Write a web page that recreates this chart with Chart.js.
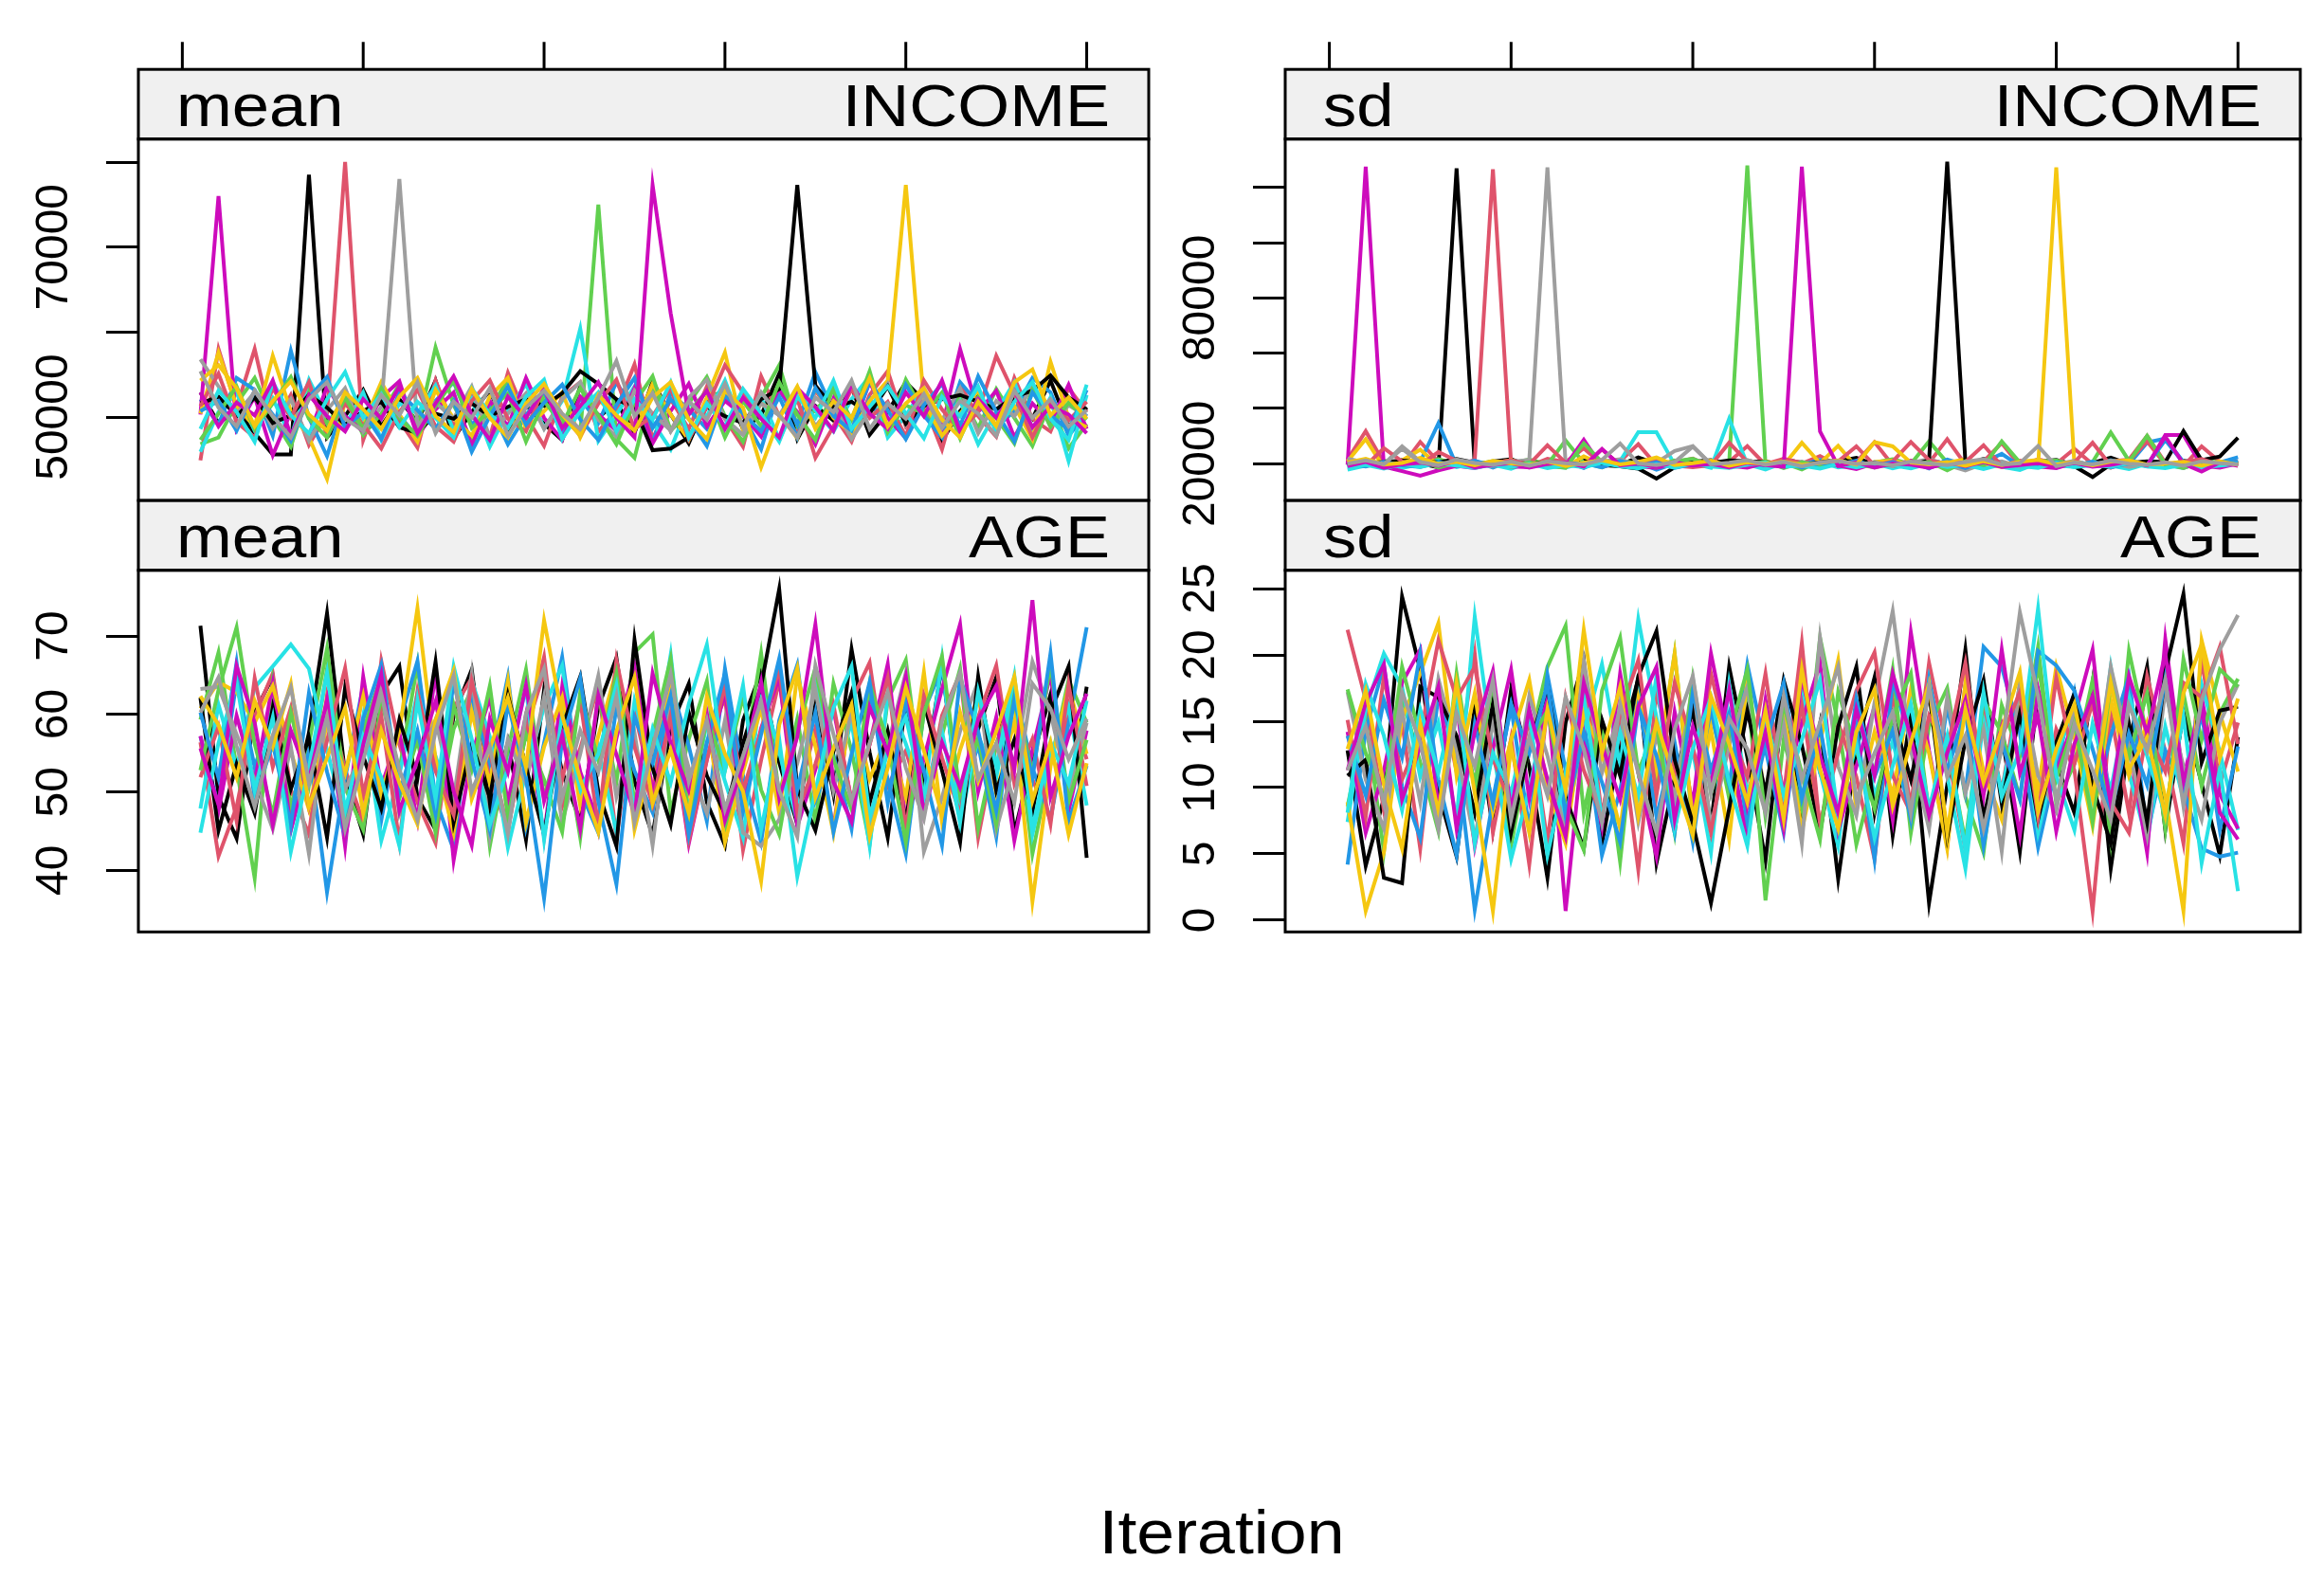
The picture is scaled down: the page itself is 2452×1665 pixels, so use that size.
<!DOCTYPE html>
<html>
<head>
<meta charset="utf-8">
<script src="https://cdn.jsdelivr.net/npm/chart.js@4.4.1/dist/chart.umd.min.js"></script>
<style>
  html, body { margin: 0; padding: 0; background: #fff; }
  body { width: 2452px; height: 1665px; position: relative; overflow: hidden; font-family: "Liberation Sans", Arial, sans-serif; }
  .panel { position: absolute; }
  #xlab { position: absolute; left: 889px; width: 800px; top: 1585px; text-align: center;
          font-size: 64px; line-height: 64px; transform: scaleX(1.12); color: #000; }
</style>
</head>
<body>
<div id="xlab">Iteration</div>
<script>
// ---- data (16 chains x 50 iterations) ----
const iterations = [1,2,3,4,5,6,7,8,9,10,11,12,13,14,15,16,17,18,19,20,21,22,23,24,25,
  26,27,28,29,30,31,32,33,34,35,36,37,38,39,40,41,42,43,44,45,46,47,48,49,50];
const palette = ['#000000','#DF536B','#61D04F','#2297E6','#28E2E5','#CD0BBC','#F5C710','#9E9E9E'];
const topTickIterations = [0,10,20,30,40,50];

const incomeMeanTicks = [50000,60000,70000,80000];
const incomeMeanTickLabels = ['50000','','70000',''];
const incomeSdTicks = [20000,40000,60000,80000,100000,120000];
const incomeSdTickLabels = ['20000','','','80000','',''];
const ageMeanTicks = [40,50,60,70];
const ageMeanTickLabels = ['40','50','60','70'];
const ageSdTicks = [0,5,10,15,20,25];
const ageSdTickLabels = ['0','5','10','15','20','25'];

const incomeMean = [
  [52900,49300,50800,48100,45600,45600,78500,47600,50100,53200, 48900,52100,49400,54300,47500,50600,53100,48200,51400,49200,
   47300,53600,49900,51800,48100,54200,50300,46900,51700,53400, 48600,50200,55100,47400,51300,49600,53500,47900,50600,54100,
   51900,47200,50700,52900,48400,52300,49800,54300,48900,51100],
  [44900,58000,51100,58000,48800,52600,46700,50400,80000,47300, 53200,49600,46400,54300,48900,52400,47600,55200,50100,46600,
   52400,54100,48300,50800,56200,47400,52100,48600,53600,49800, 46500,54800,50100,48200,53100,50300,47100,52600,55400,48900,
   51600,46200,53800,50100,47700,54600,49800,48300,53400,50600],
  [46800,47600,51600,54600,49900,46500,53100,49200,52200,47900, 50400,53800,48600,58200,51400,47300,50900,54400,48900,52600,
   49800,48100,75000,47400,45200,53400,48400,51600,54700,50100, 47100,52300,56100,48900,50800,53100,47600,52100,48500,54400,
   50600,47900,52600,48700,53300,49900,46600,51800,46300,49200],
  [52100,49100,54600,53200,47800,57800,49900,45400,52300,48600, 53600,50200,47600,51900,54100,49100,51300,46800,50200,53100,
   47900,52200,49300,54100,50600,47100,52800,50900,48600,52300, 50100,46200,53300,49100,55300,50700,47900,52100,48300,53800,
   50200,47600,54100,51600,48800,50700,54600,52900,47800,50400],
  [45900,50600,52800,48400,52200,47600,54400,50100,48900,52900, 47300,51600,50400,53700,48400,52100,46500,50700,53900,48700,
   51900,60400,47200,50300,53600,49400,46200,51600,50100,54300, 48800,52300,47400,53100,50800,48300,52100,54800,47600,50200,
   53400,49300,51900,46800,50600,54100,48600,52300,44800,52600],
  [50300,76000,48600,52400,45500,50600,47800,53600,50100,48300, 52300,54200,47700,50900,52900,46600,51900,48900,54600,49900,
   47300,52400,50300,48400,53400,46900,50700,53900,48900,51900, 50200,47700,53100,50600,46800,52200,48400,54100,49900,47500,
   52400,48700,58000,50600,53100,47600,51600,49300,53800,48600],
  [50400,57600,51300,48900,57200,50700,47600,42700,51900,49200, 54100,50300,47100,53200,49800,47800,52400,54600,48600,50700,
   52900,47600,52100,49900,48800,53900,50300,47300,52300,57600, 48400,51600,50400,47500,53400,49900,48100,51900,54300,77300,
   51800,47800,50400,53100,48900,51300,47400,56500,49900,48800],
  [56800,53600,50400,52900,48700,52100,47200,50800,53400,48300, 51200,78000,48900,51700,49800,53600,47600,50400,52800,48600,
   52100,54100,49700,47700,53100,50400,48400,52300,54400,49800, 47900,51600,50200,53500,48900,51500,47400,50700,53900,49100,
   51900,49600,53400,48100,51900,50100,53600,48800,51400,50100],
  [51600,52400,50100,52300,49300,50200,52600,51100,49100,50700, 51800,48800,48100,50400,49800,51600,50100,51200,52100,51300,
   52800,55400,53900,52100,51100,46100,46300,47600,51200,50100, 49300,52100,53300,77300,53700,51100,51800,50400,53600,49200,
   51300,52100,52600,51800,50900,52400,53100,54900,52300,50900],
  [51300,55100,49400,47600,53400,49900,54100,47800,51600,49100, 46300,50600,53200,48900,47100,51900,54300,49800,48300,53600,
   50300,47800,51600,54400,48600,50100,53400,47400,51200,56100, 52900,50100,47300,52200,45200,48900,53300,49900,51800,47700,
   54300,50900,48400,50600,57200,52700,47600,51900,49600,51800],
  [47300,50400,53600,48600,51600,54700,49800,47600,52300,48600, 53400,49900,47800,51300,54300,48700,50800,52800,47100,51900,
   49100,53400,50200,46800,51700,54800,48400,50500,53100,47600, 51900,48900,54100,50300,47300,53600,49700,55400,48200,51400,
   50400,52900,47500,52300,49900,46900,53200,48900,51700,49700],
  [50700,51900,48400,53100,50300,47200,52300,54700,48800,50600, 47400,52900,50800,48600,51900,45900,50100,53600,49100,51700,
   53800,49700,47300,51400,54600,48700,52100,49800,46600,52700, 50400,48300,52400,47600,53400,50100,48400,54200,50800,47400,
   51400,53900,48900,54800,50600,47100,52900,50200,48500,53200],
  [48600,53100,50600,47100,54100,50200,48100,52100,55300,49900, 52700,48800,51800,49900,47600,53400,50300,48700,52400,54400,
   47400,50700,52900,48300,52100,49700,54100,47600,51600,48900, 53300,50400,47100,52400,49900,54300,48600,51200,53600,50400,
   47500,52400,50100,53600,48200,51800,54100,49800,47300,53800],
  [52900,48900,51700,50200,54300,47800,52600,50100,48300,52100, 49800,53600,48100,51600,54800,50300,47300,52400,49900,53300,
   48700,51300,54100,49900,47600,77300,62200,50300,53100,48600, 52300,49800,47600,53400,51200,48400,53900,50400,48600,52900,
   50100,54300,48200,52100,49900,53100,48800,51300,50300,48100],
  [54300,56100,53400,48900,51900,54200,50300,48400,52900,50900, 48600,52400,54600,50100,48200,53300,49900,47600,51600,53900,
   50300,47800,52600,50200,48400,52300,54100,49700,47400,53100, 51100,44100,49800,53600,48600,51900,49900,54600,48900,51600,
   53400,49700,47600,51800,48900,54100,55600,50200,52300,49800],
  [55400,51100,48900,53100,50100,47600,52100,54100,49800,48400, 52600,50200,54100,48100,51800,49900,53400,47800,51100,53100,
   50400,48600,52300,56600,50100,52800,48300,51900,49700,53900, 48800,52900,50200,47600,52300,50600,54300,48600,51600,49800,
   52700,48700,51900,50400,47800,53100,49900,52100,48900,50800]
];

const incomeSd = [
  [19800,20600,19200,21400,20100,18700,126900,19500,20800,21600, 19300,20200,18900,21100,20500,19600,22300,20000,19100,20700,
   21300,19800,20400,18800,21700,20300,19400,20900,22100,19700, 20600,18500,21200,20000,19300,21800,20500,19000,20700,21400,
   19600,20300,22200,19900,20800,19200,21000,20400,19500,20900],
  [21500,31800,20300,19200,27900,20700,19600,21300,126500,20200, 19100,21800,20600,25600,19800,20900,27100,19400,20500,21900,
   18900,20700,26400,19600,21200,20100,22800,19300,20600,27800, 19500,21100,20300,28900,19700,20800,27500,19200,21600,20000,
   25400,19800,20900,21500,30100,20400,19100,26300,20700,19900],
  [20300,19100,21000,20500,18900,21700,19800,20600,19400,20100, 21500,19700,28400,20300,18700,21200,20000,19500,20900,21800,
   19300,20600,127900,19800,20200,17900,21100,20700,19200,20500, 21600,19900,28100,20400,18600,21300,20100,19600,20800,21200,
   19400,20600,31300,21100,19800,20300,18800,21000,20500,19700],
  [18800,20400,19600,21200,20700,34600,19300,20900,18600,21100, 20200,19500,20800,18400,21300,19900,20500,17800,20100,19300,
   21000,19400,20700,18900,20300,19700,21400,20000,18700,20600, 19200,20800,18300,21500,19600,20400,23600,19100,20700,18500,
   20900,19400,21300,19800,27700,29100,20600,19200,20500,22400],
  [17900,19300,20600,18400,19900,21100,18800,20300,19600,18200, 20700,19100,18600,20400,19400,20900,31400,31400,19700,20200,
   18500,36300,19800,17900,20400,19000,20600,18700,19500,20100, 18300,19900,20700,18600,19200,20500,18900,17700,20300,19400,
   18800,20600,19300,18100,20000,19600,18400,20800,19100,20200],
  [19600,127500,18900,17300,15700,17600,19200,18400,20100,19000, 18700,20500,19300,28700,18900,20400,19100,18500,20000,19400,
   20900,19200,18600,20300,19800,18900,20600,19300,18100,20200, 19500,21000,18700,19900,20500,18800,19600,20700,19000,18400,
   20300,19700,18600,20800,19100,30400,30400,19300,18600,20100],
  [20900,28900,18600,21200,25100,19400,20600,18900,20200,21300, 19500,20300,18800,22700,19700,20700,18500,19800,21000,19300,
   20100,18700,19900,20900,19400,27600,20200,26500,18900,20600, 21100,19600,19100,20400,21600,19800,18800,20500,19200,127200,
   19700,20300,18600,21000,19400,18900,20700,19100,20500,19500],
  [21800,20500,19800,26300,20900,19600,21200,20200,19000,20700, 21400,127200,20100,19400,20800,21600,19200,20400,24600,26400,
   19900,20600,21300,19500,20200,20800,18700,21000,19300,20500, 19100,20300,21700,19600,17600,20100,20900,18900,20400,19700,
   21100,19300,20600,18800,19900,20500,18400,21200,19600,20300],
  [19400,20300,20600,21100,20800,20500,21700,20400,20100,20700, 19900,20600,20300,19800,19500,19100,18200,14600,18700,19800,
   20300,21200,20900,20600,20100,19700,20500,21100,20800,20200, 19400,19200,21300,129300,20700,20400,19600,19900,20500,20300,
   19100,15200,19800,20300,20900,20600,31800,21300,22600,29400],
  [20600,19300,25600,20800,19500,24300,21000,19700,20300,21200, 19800,26700,20400,19100,25200,19600,20100,21400,19300,18700,
   19500,27600,20700,19900,21800,20300,18600,20900,26300,19400, 20800,27900,21300,19700,20600,26700,19200,21100,20100,19800,
   20500,27600,19300,20900,28100,19700,20600,21700,19500,20900],
  [19200,20800,19500,20100,21400,18600,20300,19700,20900,18800, 20500,19300,18500,27400,20600,19100,20000,18800,21200,19600,
   20300,18900,19700,20800,18400,20500,19300,21000,19800,18700, 20200,19500,20700,17600,20900,19200,28100,20400,19000,20800,
   18900,20100,19600,20700,30100,19800,18500,20500,19900,20600],
  [20100,19000,20700,19400,18800,20500,19600,21100,19200,20300, 18900,20600,19900,20200,18700,21000,19300,20500,18500,19800,
   20400,18800,20100,19500,20800,18600,20200,19700,21100,19000, 20600,18900,19800,20300,18400,20700,19200,20000,18800,20500,
   19300,20800,18700,20100,19500,28600,20300,19000,20600,20700],
  [18600,19600,18200,19900,18800,20200,19300,18500,19700,18900, 20000,18400,19500,18700,20300,19100,18300,19800,18600,20100,
   19000,18500,19700,20400,18900,19300,18200,19900,18700,20000, 19400,18300,20100,18800,19600,18100,19800,19200,18500,20300,
   18700,19500,18900,20200,19000,18400,19700,18600,19300,19900],
  [19100,20700,18500,19800,20400,19300,20900,18700,19600,20200, 18600,19900,20500,19000,25300,19400,20100,18800,20600,19300,
   19900,18700,20300,19500,18900,127500,31700,19200,20500,18600, 20100,19700,18500,20400,19100,20600,18800,19500,20200,19000,
   20300,18900,19600,20800,19400,29800,20000,17200,20500,19200],
  [20500,21800,19700,20300,22100,19900,20700,19400,21000,20100, 19600,20800,19200,20400,21300,19800,20600,22300,19500,20200,
   21100,19300,20500,19900,20800,19600,20300,21200,19700,27800, 26300,20400,19800,20600,19300,20900,19500,20700,21400,19800,
   20600,19400,20800,21200,19700,20100,20700,19300,20900,19600],
  [20000,21200,19800,25400,20600,19400,21500,20300,19600,20800, 19300,20900,20200,19700,21400,27300,20100,19500,20600,26200,
   19800,20400,21300,19600,20700,19100,20500,21000,19900,20300, 19400,20800,20100,19500,20600,21700,19700,20200,26400,19100,
   20400,19800,21100,20000,19600,20500,19300,20900,20200,19800]
];

const ageMean = [
  [71.3,49.4,44.1,60.2,64.8,47.3,57.6,72.9,52.2,44.6, 62.5,66.1,49.3,45.2,59.8,65.7,47.8,56.4,43.9,63.1,
   52.6,46.3,60.9,67.2,51.4,44.5,58.3,63.9,48.7,43.2, 59.2,65.4,53.8,45.9,62.1,49.7,68.3,55.1,44.2,61.6,
   51.3,66.4,47.2,58.1,64.7,44.8,54.3,62.5,48.6,63.5],
  [56.4,41.8,48.1,59.7,65.2,50.3,44.6,62.4,52.9,46.2, 66.8,56.1,48.7,43.5,60.8,64.6,51.9,45.1,57.8,67.3,
   48.2,55.6,63.7,44.1,60.3,50.2,65.8,46.3,56.4,62.1, 42.6,54.1,64.3,48.9,58.2,45.4,61.7,66.6,50.8,55.3,
   47.6,59.8,65.2,44.2,56.1,63.4,51.6,46.5,61.3,54.2],
  [59.3,67.9,53.1,39.0,64.2,48.1,56.2,68.4,50.6,45.2, 61.7,52.8,66.4,46.3,58.1,63.2,43.1,55.4,65.7,49.2,
   58.4,44.2,62.6,51.3,67.9,70.2,47.4,56.8,64.2,45.1, 53.2,67.8,49.6,59.4,46.1,63.9,55.3,43.4,61.8,66.9,
   48.7,57.3,65.8,45.4,56.2,61.3,42.1,53.6,64.4,58.9],
  [57.1,48.2,64.3,53.2,60.6,45.1,55.3,37.2,51.8,63.7, 46.4,58.9,66.8,49.1,42.6,62.1,53.7,64.8,45.6,56.3,
   67.3,50.2,44.8,60.9,52.7,47.4,63.8,55.9,46.3,65.8, 52.1,43.6,59.2,66.3,48.9,54.8,45.3,62.8,51.6,42.1,
   60.4,65.9,48.2,56.1,44.3,63.4,53.1,46.6,58.8,71.1],
  [47.9,61.2,53.1,63.4,66.1,68.9,65.8,55.4,46.3,59.7, 43.8,52.3,62.7,54.6,47.4,64.3,57.1,42.9,52.6,60.9,
   66.2,49.3,55.8,44.8,61.7,53.2,67.6,47.1,58.9,51.4, 44.2,63.6,55.1,46.2,65.3,50.6,59.1,43.1,62.4,56.2,
   49.4,67.1,46.1,57.2,51.9,63.8,44.6,54.7,60.9,48.3],
  [57.2,47.6,59.8,51.3,63.9,45.2,53.4,61.2,43.1,64.8, 50.7,57.6,46.4,65.6,41.3,54.8,62.1,48.7,59.9,44.3,
   63.5,52.6,46.1,56.9,66.1,49.8,59.4,43.4,54.2,62.8, 47.8,58.2,64.7,45.6,52.9,60.6,48.9,56.1,66.4,46.1,
   54.3,63.2,71.5,50.1,59.6,43.8,55.4,65.1,47.6,57.9],
  [60.7,64.1,62.8,58.9,63.6,55.2,47.8,58.9,52.4,62.3, 49.6,57.8,73.6,54.2,44.8,60.3,51.1,64.2,46.1,55.8,
   62.1,48.3,57.2,65.6,45.2,54.6,63.1,50.2,59.7,43.6, 52.6,60.8,47.3,64.9,55.9,44.8,61.8,51.7,57.4,49.3,
   65.4,46.2,55.4,62.3,49.8,59.1,36.0,53.3,63.6,54.9],
  [63.2,63.5,57.4,51.6,45.3,55.8,42.1,60.9,50.4,55.2, 63.8,47.2,53.1,59.3,49.1,65.2,44.3,56.8,51.1,62.2,
   46.1,54.9,64.9,49.4,57.6,43.2,61.4,53.1,47.3,59.2, 44.8,43.1,46.5,53.7,63.1,50.2,60.3,46.4,55.9,65.3,
   42.4,49.3,57.8,64.2,45.2,53.6,66.7,60.1,50.1,58.9],
  [62.1,45.1,53.6,47.3,60.8,50.4,56.9,44.2,63.4,54.6, 47.9,59.3,51.8,66.7,46.1,56.2,49.3,62.4,53.2,44.6,
   58.3,64.8,50.1,43.1,69.5,53.1,45.9,60.2,52.1,47.2, 56.3,63.6,76.0,50.4,45.1,55.2,62.7,48.6,57.8,46.3,
   61.4,52.8,43.6,64.8,50.2,56.7,47.4,60.3,66.1,41.6],
  [51.9,58.4,46.3,64.6,53.2,60.8,48.1,56.6,65.9,49.7, 59.8,43.6,62.9,52.7,47.1,64.2,55.1,45.2,57.9,65.3,
   51.6,61.8,45.7,66.9,55.8,48.4,59.9,43.8,54.1,63.6, 50.2,57.9,65.8,47.4,53.6,61.2,48.8,56.1,64.6,45.1,
   62.3,54.4,47.2,59.6,66.2,51.1,56.8,45.9,63.8,50.8],
  [52.8,63.1,71.1,56.2,47.1,60.2,50.9,65.8,46.2,57.8, 64.9,49.2,56.7,44.8,61.2,52.9,63.6,46.8,57.4,51.6,
   44.9,62.8,54.1,65.2,48.7,57.3,67.1,46.4,59.6,52.8, 62.2,50.3,44.6,57.8,65.9,54.2,47.8,63.9,56.3,43.6,
   60.1,67.4,49.6,56.9,45.9,62.7,52.3,66.4,48.8,56.7],
  [60.2,51.8,66.6,49.1,56.2,45.8,62.7,52.6,44.3,59.4, 66.3,49.8,57.9,47.2,64.1,54.3,45.1,61.4,51.9,36.4,
   56.7,64.6,48.8,38.2,59.6,53.8,62.4,44.6,56.3,65.2, 47.6,57.4,67.1,50.3,60.2,44.9,54.9,64.1,48.6,61.5,
   52.7,43.2,64.6,57.8,47.6,61.9,51.8,67.8,46.2,53.4],
  [44.8,56.3,64.1,50.2,59.6,42.4,53.2,65.3,47.6,57.2, 51.9,43.1,61.8,49.1,66.1,56.8,45.8,53.1,63.4,43.9,
   59.9,50.4,54.9,63.7,47.3,58.1,51.2,61.3,68.9,52.8, 63.7,45.2,56.8,39.2,50.1,60.8,66.1,46.7,55.2,59.6,
   49.2,57.8,46.1,62.9,53.3,64.9,45.3,56.4,51.1,61.7],
  [55.6,48.4,66.2,58.9,45.8,57.9,51.6,61.8,44.2,56.1, 65.1,47.6,54.1,61.6,50.1,43.2,59.4,52.6,63.7,48.9,
   57.3,45.3,62.4,54.8,47.1,65.2,56.3,50.2,60.1,46.4, 53.6,64.1,49.2,57.1,71.5,51.3,46.2,60.9,55.1,64.8,
   47.2,56.4,50.6,59.3,63.6,52.9,74.6,49.4,57.2,62.6],
  [62.3,58.6,51.9,61.7,55.8,63.9,48.2,54.4,60.8,47.3, 57.9,51.2,45.9,59.2,65.6,49.1,55.6,62.1,53.2,72.0,
   59.8,51.7,44.9,57.8,64.7,48.6,55.4,47.3,62.3,54.9, 50.1,38.6,58.6,65.9,49.3,55.6,61.2,44.4,53.1,63.4,
   55.3,47.1,60.2,51.4,57.8,64.8,48.9,56.4,44.6,53.7],
  [60.2,64.7,55.9,48.1,57.3,63.4,51.2,59.6,45.3,54.1, 62.6,52.9,46.4,57.8,64.9,50.1,55.8,44.6,60.1,65.8,
   49.3,57.9,52.6,62.3,46.1,55.7,65.1,51.4,59.2,47.8, 54.7,61.6,50.2,44.3,66.2,57.4,48.9,56.3,62.8,53.1,
   46.6,59.1,65.3,51.8,56.2,48.7,63.9,60.7,54.2,59.4]
];

const ageSd = [
  [12.8,4.1,9.2,24.4,18.9,9.6,4.8,16.1,6.9,17.4, 11.6,3.2,14.9,19.6,5.8,13.1,18.2,4.3,10.7,15.9,
   7.1,19.1,12.3,4.5,16.8,8.2,14.8,3.1,12.9,18.3, 6.4,15.6,1.3,10.2,20.4,7.6,14.1,5.2,17.3,11.9,
   8.1,17.9,3.9,13.4,19.1,6.8,15.7,10.3,4.9,13.8],
  [21.9,16.6,8.3,14.9,5.4,17.8,11.2,20.1,6.6,13.7, 4.2,16.1,9.8,18.9,7.9,14.6,3.8,17.2,11.4,7.2,
   18.6,12.8,5.9,15.7,9.4,20.9,6.8,14.9,10.8,4.6, 16.7,8.6,19.4,12.9,5.3,16.2,9.7,17.8,6.9,14.4,
   11.3,0.7,15.6,8.1,18.4,12.7,5.8,19.8,10.2,14.9],
  [8.6,15.1,5.2,16.8,11.9,6.7,18.6,9.8,15.7,5.6, 13.2,19.1,22.2,8.1,14.6,4.4,17.2,10.9,20.1,7.2,
   15.9,9.2,17.8,1.5,13.6,8.4,21.3,14.8,5.7,11.1, 18.9,6.6,14.6,17.5,9.3,5.1,16.2,12.4,20.6,8.8,
   11.8,18.1,6.1,20.3,13.9,7.9,17.1,10.1,15.6,18.2],
  [4.2,14.3,19.2,10.1,6.2,16.9,12.6,0.8,9.1,16.1, 6.9,18.5,11.3,15.1,4.9,9.8,16.9,7.8,13.4,5.9,
   15.6,10.2,19.3,12.9,6.6,17.4,11.1,7.6,14.7,4.6, 18.1,13.4,7.2,16.1,9.6,20.6,19.1,14.1,5.5,11.6,
   17.2,8.2,13.9,18.4,6.4,12.8,9.9,5.4,4.8,5.1],
  [7.4,15.9,20.1,17.6,10.8,14.9,7.6,22.9,12.9,4.6, 9.9,16.4,6.9,14.2,19.3,11.6,22.7,15.3,8.4,12.8,
   5.1,17.8,9.6,13.8,7.2,17.1,11.2,5.6,16.3,9.4, 13.5,7.8,18.1,10.9,3.9,15.1,9.7,16.8,6.6,12.4,
   16.2,8.6,19.1,11.1,5.9,14.6,9.1,17.8,12.7,6.8],
  [14.2,6.6,11.3,17.9,20.4,8.4,16.3,5.6,12.9,18.9, 9.2,17.1,0.7,14.1,7.1,18.6,11.1,4.8,15.7,8.7,
   20.1,13.3,6.2,16.6,9.6,14.9,19.4,6.8,11.6,16.1, 7.6,21.7,12.8,5.6,17.8,10.1,14.6,6.4,17.4,11.1,
   15.3,20.4,8.1,13.4,5.1,21.2,10.6,16.8,9.5,6.9],
  [8.9,0.7,5.1,15.2,18.6,22.4,10.9,17.1,8.2,13.6, 18.1,9.9,5.8,15.7,12.6,6.9,16.8,11.3,20.1,7.6,
   14.4,6.1,18.2,9.1,15.9,6.7,13.4,19.6,8.3,14.2, 9.4,17.4,12.6,5.4,17.9,11.2,7.6,16.1,9.8,19.1,
   13.8,7.1,16.6,10.9,14.9,9.3,0.7,21.1,15.6,11.2],
  [17.2,10.6,6.9,15.8,8.9,18.2,12.9,5.9,15.1,8.1, 16.9,12.4,6.6,19.6,11.1,15.9,7.4,13.9,9.3,17.8,
   7.1,13.2,17.6,9.2,14.8,5.8,21.3,11.6,7.9,16.4, 23.3,12.8,6.9,16.8,9.6,14.4,5.2,18.1,10.9,8.2,
   16.1,9.3,19.1,13.1,6.4,17.3,11.6,7.6,14.9,17.8],
  [10.9,12.1,3.2,2.8,17.6,16.8,13.9,8.1,16.4,6.6, 13.1,17.6,9.3,5.4,15.1,10.9,18.4,21.8,12.1,7.3,
   1.3,8.4,15.8,9.6,18.1,13.2,6.6,14.6,19.1,8.1, 15.4,10.6,17.2,6.3,13.6,18.1,8.8,15.6,7.6,13.4,
   17.1,10.1,5.8,14.8,7.4,18.7,24.6,11.9,15.8,16.1],
  [15.1,7.8,18.4,10.6,13.9,21.1,16.7,19.1,12.2,8.6, 15.2,5.9,16.8,11.3,7.8,15.6,19.6,9.4,17.9,13.1,
   6.6,14.7,10.8,18.6,9.1,16.2,7.3,12.6,17.3,20.2, 10.9,8.1,15.4,12.9,19.4,9.6,13.8,17.2,7.8,18.3,
   11.8,16.4,8.9,6.6,14.3,11.2,17.9,16.8,20.6,13.3],
  [17.4,12.6,9.3,19.1,13.8,7.1,15.9,10.4,17.9,8.1, 13.4,15.8,8.6,5.3,17.3,21.3,11.2,14.7,6.6,18.2,
   9.6,13.9,18.9,7.8,16.3,11.1,6.1,17.2,12.8,8.4, 15.4,18.6,8.1,13.2,5.9,16.6,14.1,9.2,19.3,10.6,
   14.9,7.4,17.9,12.4,17.1,6.9,19.7,13.6,18.9,17.6],
  [13.9,9.4,16.6,12.3,20.1,10.6,4.9,14.8,8.8,16.3, 12.6,17.8,7.9,14.1,10.4,5.9,16.1,12.4,6.6,17.2,
   11.3,15.6,7.4,13.3,17.9,9.2,14.6,6.9,16.7,10.8, 14.3,7.6,18.1,11.2,15.8,5.6,13.4,9.1,20.3,19.2,
   17.3,12.9,8.1,14.1,10.2,18.2,9.1,15.6,6.8,13.1],
  [8.1,17.8,13.9,8.3,15.9,11.1,17.3,5.8,12.6,9.6, 15.6,4.9,11.1,16.9,7.6,14.2,9.3,18.4,6.9,12.9,
   16.8,10.4,5.6,15.6,9.4,13.6,18.1,7.8,13.3,6.2, 11.6,16.3,8.4,13.9,5.3,17.2,9.3,12.8,23.5,10.9,
   6.8,14.8,9.8,16.9,12.4,7.9,15.4,4.3,11.4,2.2],
  [11.3,16.4,19.3,9.1,13.1,17.6,6.9,14.2,18.8,8.2, 15.9,10.6,6.3,17.9,13.2,9.1,16.1,19.1,7.6,14.6,
   10.2,17.4,8.6,14.2,6.9,18.3,12.4,8.1,15.9,10.9, 18.6,13.8,7.9,12.6,16.6,9.4,20.4,11.1,15.4,6.7,
   13.3,16.9,8.8,18.4,14.1,20.1,10.4,15.9,8.1,6.1],
  [12.9,17.3,10.2,5.4,14.8,8.1,17.9,9.6,0.7,13.1, 6.6,15.9,9.8,21.9,12.6,17.6,7.9,14.9,10.6,6.4,
   16.9,13.3,8.9,15.8,7.6,18.9,11.4,6.9,14.2,17.4, 8.6,13.4,17.8,6.6,15.9,10.4,14.4,18.7,8.2,12.9,
   16.3,9.2,17.9,11.4,13.8,7.9,17.1,20.8,12.2,16.7],
  [11.3,14.6,8.8,17.2,13.4,6.9,15.6,11.6,18.1,7.6, 13.8,9.4,16.8,12.9,7.4,16.3,11.1,6.6,14.4,18.4,
   9.6,15.2,12.9,8.1,16.9,10.6,14.9,19.1,9.1,12.6, 15.7,8.1,17.6,10.8,13.9,6.9,12.9,23.2,16.9,9.1,
   14.8,11.3,7.6,16.2,12.8,18.1,8.6,16.6,20.4,23.0]
];

// ---- layout ----
const FONT = '"Liberation Sans", Arial, sans-serif';
const panels = [
  { stat: 'mean', name: 'INCOME', series: incomeMean, ticks: incomeMeanTicks, labels: incomeMeanTickLabels,
    yMin: 40190, yMax: 82710, topTicks: true,
    box: { left: 0, top: 0, width: 1226, height: 600, padTop: 146.7, padRight: 14, padBottom: 72, axisW: 146 } },
  { stat: 'sd', name: 'INCOME', series: incomeSd, ticks: incomeSdTicks, labels: incomeSdTickLabels,
    yMin: 6730, yMax: 137490, topTicks: true,
    box: { left: 1230, top: 0, width: 1222, height: 600, padTop: 146.7, padRight: 25, padBottom: 72, axisW: 126 } },
  { stat: 'mean', name: 'AGE', series: ageMean, ticks: ageMeanTicks, labels: ageMeanTickLabels,
    yMin: 32.11, yMax: 78.41, topTicks: false,
    box: { left: 0, top: 520, width: 1226, height: 480, padTop: 81.7, padRight: 14, padBottom: 16.7, axisW: 146 } },
  { stat: 'sd', name: 'AGE', series: ageSd, ticks: ageSdTicks, labels: ageSdTickLabels,
    yMin: -0.88, yMax: 26.38, topTicks: false,
    box: { left: 1230, top: 520, width: 1222, height: 480, padTop: 81.7, padRight: 25, padBottom: 16.7, axisW: 126 } }
];

const measureCtx = document.createElement('canvas').getContext('2d');
measureCtx.font = '48px ' + FONT;
function widest(labels) {
  return Math.max(...labels.map(t => measureCtx.measureText(t).width));
}

// strip, panel box and the top tick marks (lattice style)
const latticeFrame = {
  id: 'latticeFrame',
  afterDraw(chart, args, opts) {
    const { ctx, chartArea: a } = chart;
    const stripH = 73.5;
    const st = a.top - stripH;
    ctx.save();
    ctx.fillStyle = '#f0f0f0';
    ctx.fillRect(a.left, st, a.right - a.left, stripH);
    ctx.lineWidth = 3;
    ctx.strokeStyle = '#000';
    ctx.strokeRect(a.left, st, a.right - a.left, stripH);
    ctx.strokeRect(a.left, a.top, a.right - a.left, a.bottom - a.top);
    ctx.fillStyle = '#000';
    ctx.font = '63px ' + FONT;
    ctx.textBaseline = 'alphabetic';
    ctx.save();
    ctx.translate(a.left + 40, st + 60);
    ctx.scale(1.12, 1);
    ctx.textAlign = 'left';
    ctx.fillText(opts.stat, 0, 0);
    ctx.restore();
    ctx.save();
    ctx.translate(a.right - 41, st + 60);
    ctx.scale(1.12, 1);
    ctx.textAlign = 'right';
    ctx.fillText(opts.name, 0, 0);
    ctx.restore();
    if (opts.topTicks) {
      const xs = chart.scales.x;
      ctx.beginPath();
      topTickIterations.forEach(v => {
        const px = xs.getPixelForValue(v);
        ctx.moveTo(px, st);
        ctx.lineTo(px, st - 29);
      });
      ctx.stroke();
    }
    ctx.restore();
  }
};

panels.forEach((p) => {
  const b = p.box;
  const div = document.createElement('div');
  div.className = 'panel';
  div.style.left = b.left + 'px';
  div.style.top = b.top + 'px';
  div.style.width = b.width + 'px';
  div.style.height = b.height + 'px';
  const cv = document.createElement('canvas');
  div.appendChild(cv);
  document.body.appendChild(div);

  const labelPad = 88 - 34 - widest(p.labels) / 2;

  new Chart(cv, {
    type: 'line',
    data: {
      datasets: p.series.map((vals, i) => ({
        data: iterations.map((it, k) => ({ x: it, y: vals[k] })),
        borderColor: palette[i % palette.length],
        borderWidth: 4,
        pointRadius: 0,
        fill: false,
        tension: 0,
        order: -i
      }))
    },
    options: {
      responsive: true,
      maintainAspectRatio: false,
      devicePixelRatio: 1,
      animation: false,
      events: [],
      layout: { padding: { left: 0, top: b.padTop, right: b.padRight, bottom: b.padBottom } },
      plugins: {
        legend: { display: false },
        tooltip: { enabled: false },
        latticeFrame: { stat: p.stat, name: p.name, topTicks: p.topTicks }
      },
      scales: {
        x: { type: 'linear', min: -2.43, max: 53.43, display: false },
        y: {
          type: 'linear',
          min: p.yMin,
          max: p.yMax,
          afterBuildTicks: s => { s.ticks = p.ticks.map(v => ({ value: v })); },
          afterFit: s => {
            s.width = b.axisW;
            s.paddingTop = 0; s.paddingBottom = 0; s.paddingLeft = 0; s.paddingRight = 0;
          },
          border: { display: false },
          grid: { drawOnChartArea: false, drawTicks: true, tickLength: 34, tickWidth: 3, tickColor: '#000' },
          ticks: {
            autoSkip: false,
            minRotation: 90,
            maxRotation: 90,
            crossAlign: 'center',
            padding: labelPad,
            color: '#000',
            font: { family: FONT, size: 48 },
            callback: (v, i) => p.labels[i]
          }
        }
      }
    },
    plugins: [latticeFrame]
  });
});
</script>
</body>
</html>
